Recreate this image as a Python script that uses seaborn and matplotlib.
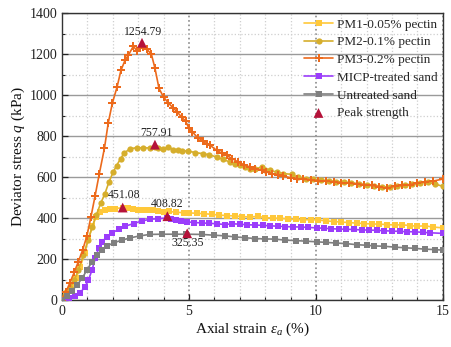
import matplotlib
matplotlib.use("Agg")
import matplotlib.pyplot as plt
from matplotlib.ticker import MultipleLocator
import seaborn as sns
import pandas as pd

# ---------------- data ----------------
pm3_x = [0, 0.16, 0.31, 0.49, 0.64, 0.81, 0.98, 1.14, 1.30, 1.47, 1.67, 1.82, 1.98, 2.17, 2.32, 2.49,
         2.61, 2.81, 2.94, 3.07, 3.20, 3.33, 3.52, 3.66, 3.82, 4.00, 4.19, 4.37, 4.54, 4.71, 4.87, 5.00,
         5.13, 5.34, 5.56, 5.70, 5.83, 6.09, 6.30, 6.48, 6.70, 6.94, 7.15, 7.40, 7.60, 7.86, 8.05, 8.26,
         8.50, 8.71, 9.00, 9.24, 9.5, 9.8, 10.1, 10.4, 10.7, 11.0, 11.3, 11.6, 11.9, 12.2, 12.5, 12.8,
         13.1, 13.4, 13.7, 14.0, 14.3, 14.6, 15.0]
pm3_q = [0, 41, 84, 138, 186, 243, 312, 406, 506, 617, 740, 863, 959, 1040, 1120, 1172,
         1194, 1238, 1217, 1230, 1233, 1225, 1199, 1131, 1032, 990, 961, 938, 917, 892, 873, 837,
         821, 792, 776, 760, 755, 730, 716, 706, 690, 673, 660, 649, 640, 633, 625, 617,
         610, 604, 597, 592, 590, 586, 582, 580, 577, 572, 570, 567, 562, 560, 552, 545,
         556, 560, 563, 570, 576, 580, 590]

pm2_x = [0, 0.12, 0.31, 0.49, 0.64, 0.84, 1.03, 1.19, 1.35, 1.52, 1.69, 1.85, 2.02, 2.15, 2.31, 2.45,
         2.68, 2.94, 3.20, 3.46, 3.66, 3.79, 3.99, 4.19, 4.38, 4.55, 4.71, 4.97, 5.24, 5.56, 5.80, 6.09,
         6.35, 6.61, 6.80, 7.00, 7.20, 7.40, 7.60, 7.86, 8.00, 8.19, 8.45, 8.71, 9.04, 9.3, 9.6, 9.9,
         10.2, 10.5, 10.8, 11.1, 11.4, 11.7, 12.0, 12.3, 12.6, 12.9, 13.2, 13.5, 13.8, 14.1, 14.4,
         14.7, 15.0]
pm2_q = [0, 24, 58, 97, 146, 219, 292, 357, 414, 471, 519, 576, 625, 656, 690, 717,
         738, 743, 742, 742, 745, 742, 738, 747, 734, 730, 727, 727, 719, 714, 708, 698,
         686, 673, 665, 657, 648, 641, 638, 649, 636, 633, 624, 617, 613, 598, 592, 588,
         585, 582, 578, 575, 572, 566, 562, 557, 552, 552, 555, 560, 565, 572, 575,
         565, 555]

pm1_x = [0, 0.2, 0.39, 0.55, 0.72, 0.89, 1.04, 1.2, 1.34, 1.5, 1.7, 1.9, 2.1, 2.4, 2.6, 2.8, 3.0,
         3.2, 3.4, 3.6, 3.8, 4.0, 4.2, 4.5, 4.8, 5.0, 5.3, 5.6, 5.9, 6.2, 6.5, 6.8, 7.1, 7.4, 7.7,
         8.0, 8.3, 8.6, 8.9, 9.2, 9.5, 9.8, 10.1, 10.4, 10.7, 11.0, 11.3, 11.6, 11.9, 12.2, 12.5,
         12.8, 13.1, 13.4, 13.7, 14.0, 14.3, 14.6, 15.0]
pm1_q = [0, 33, 65, 106, 162, 227, 300, 360, 406, 428, 440, 444, 446, 451, 448, 445, 440,
         437, 438, 437, 434, 430, 432, 428, 426, 425, 423, 421, 418, 414, 412, 410, 407, 405, 408,
         402, 400, 398, 396, 393, 391, 392, 390, 386, 383, 380, 378, 375, 373, 371, 370,
         368, 366, 367, 363, 360, 362, 356, 352]

micp_x = [0, 0.26, 0.52, 0.72, 0.89, 1.04, 1.18, 1.31, 1.44, 1.57, 1.77, 1.97, 2.23, 2.49, 2.82,
          3.15, 3.48, 3.8, 4.13, 4.3, 4.5, 4.7, 4.93, 5.2, 5.51, 5.8, 6.1, 6.42, 6.7, 7.0, 7.3, 7.6,
          7.9, 8.2, 8.5, 8.8, 9.1, 9.4, 9.7, 10.03, 10.3, 10.6, 10.9, 11.2, 11.5, 11.8, 12.1, 12.4,
          12.7, 13.0, 13.3, 13.6, 13.9, 14.2, 14.5, 15.0]
micp_q = [0, 8, 19, 36, 62, 97, 146, 203, 252, 284, 308, 328, 344, 360, 373,
          386, 394, 397, 400, 397, 390, 385, 381, 378, 376, 374, 372, 368, 372, 370, 367, 366,
          364, 362, 360, 358, 357, 356, 354, 352, 350, 348, 346, 345, 344, 342, 341, 340,
          338, 336, 335, 333, 333, 330, 328, 325]

unt_x = [0, 0.2, 0.39, 0.59, 0.79, 0.98, 1.18, 1.38, 1.57, 1.77, 2.03, 2.36, 2.68, 3.07, 3.46, 3.92,
         4.45, 4.9, 5.51, 6.0, 6.42, 6.8, 7.2, 7.6, 8.0, 8.39, 8.8, 9.2, 9.6, 10.03, 10.4, 10.8, 11.2,
         11.6, 12.0, 12.3, 12.7, 13.1, 13.5, 13.9, 14.3, 14.7, 15.0]
unt_q = [0, 21, 45, 73, 106, 146, 186, 219, 243, 263, 279, 292, 303, 313, 320, 321,
         321, 321, 320, 316, 313, 308, 304, 300, 298, 297, 292, 290, 287, 284, 281, 278, 275,
         270, 267, 264, 262, 258, 255, 252, 248, 246, 243]

peak_x = [3.15, 3.66, 2.39, 4.15, 4.93]
peak_q = [1254.79, 757.91, 451.08, 408.82, 325.35]
peak_labels = ["1254.79", "757.91", "451.08", "408.82", "325.35"]
label_x = [3.2, 3.73, 2.44, 4.15, 4.94]
label_q = [1306, 815, 511, 467, 276]

series_names = ["PM1-0.05% pectin", "PM2-0.1% pectin", "PM3-0.2% pectin",
                "MICP-treated sand", "Untreated sand"]
series_x = [pm1_x, pm2_x, pm3_x, micp_x, unt_x]
series_q = [pm1_q, pm2_q, pm3_q, micp_q, unt_q]
colors = ["#FFC83A", "#D6AE2C", "#EC6A1C", "#9B3DFB", "#7F7F7F"]
markers = ["s", "o", "P", "s", "s"]
msizes = [4.5, 4.5, 5.5, 4.5, 4.5]

# ---------------- plotting ----------------
sns.set_style("white")
plt.rcParams["font.family"] = ["Liberation Serif", "DejaVu Serif"]
plt.rcParams["mathtext.fontset"] = "custom"
plt.rcParams["mathtext.rm"] = "Liberation Serif"
plt.rcParams["mathtext.it"] = "Liberation Serif:italic"

fig = plt.figure(figsize=(4.51, 3.47), dpi=100)
ax = fig.add_axes([0.1375, 0.1354, 0.8445, 0.8271])

draw_order = [4, 3, 0, 1, 2]
for i in draw_order:
    df = pd.DataFrame({"x": series_x[i], "q": series_q[i]})
    sns.lineplot(data=df, x="x", y="q", ax=ax, color=colors[i], marker=markers[i],
                 markersize=msizes[i], markeredgewidth=0, linewidth=1.2, sort=False,
                 label=series_names[i], zorder=3 + i)

pk = pd.DataFrame({"x": peak_x, "q": peak_q})
sns.scatterplot(data=pk, x="x", y="q", ax=ax, marker="^", s=50, color="#B5123A",
                edgecolor="none", zorder=10, label="Peak strength")
for lx, lq, t in zip(label_x, label_q, peak_labels):
    ax.text(lx, lq, t, ha="center", va="center", fontsize=8.5, color="#222222", zorder=11)

ax.set_xlim(0, 15)
ax.set_ylim(0, 1400)
ax.xaxis.set_major_locator(MultipleLocator(5))
ax.xaxis.set_minor_locator(MultipleLocator(1))
ax.yaxis.set_major_locator(MultipleLocator(200))
ax.yaxis.set_minor_locator(MultipleLocator(100))

ax.grid(which="major", axis="y", color="#9a9a9a", linestyle="-", linewidth=1.0, zorder=0)
ax.grid(which="minor", axis="y", color="#cfcfcf", linestyle=":", linewidth=0.9, zorder=0)
ax.grid(which="major", axis="x", color="#8a8a8a", linestyle=":", linewidth=1.2, zorder=0)
ax.grid(which="minor", axis="x", color="#cfcfcf", linestyle=":", linewidth=0.9, zorder=0)
ax.set_axisbelow(True)

ax.tick_params(which="both", direction="in", labelsize=10, colors="#222222",
               left=True, bottom=True)
ax.tick_params(which="major", length=4, width=0.9)
ax.tick_params(which="minor", length=2.5, width=0.8)
for s in ax.spines.values():
    s.set_color("#333333")
    s.set_linewidth(1.0)

ax.set_xlabel(r"Axial strain $\varepsilon_a$ (%)", fontsize=11, color="#111111", labelpad=2)
ax.set_ylabel(r"Deviator stress $q$ (kPa)", fontsize=11, color="#111111", labelpad=2)

handles, labels = ax.get_legend_handles_labels()
order = [labels.index(n) for n in series_names + ["Peak strength"]]
ax.legend([handles[k] for k in order], [labels[k] for k in order], loc="upper right",
          frameon=False, fontsize=9.5, handlelength=2.2, handletextpad=0.3,
          labelspacing=0.42, borderaxespad=0.2, borderpad=0.2)

fig.savefig("out.png", dpi=100)
